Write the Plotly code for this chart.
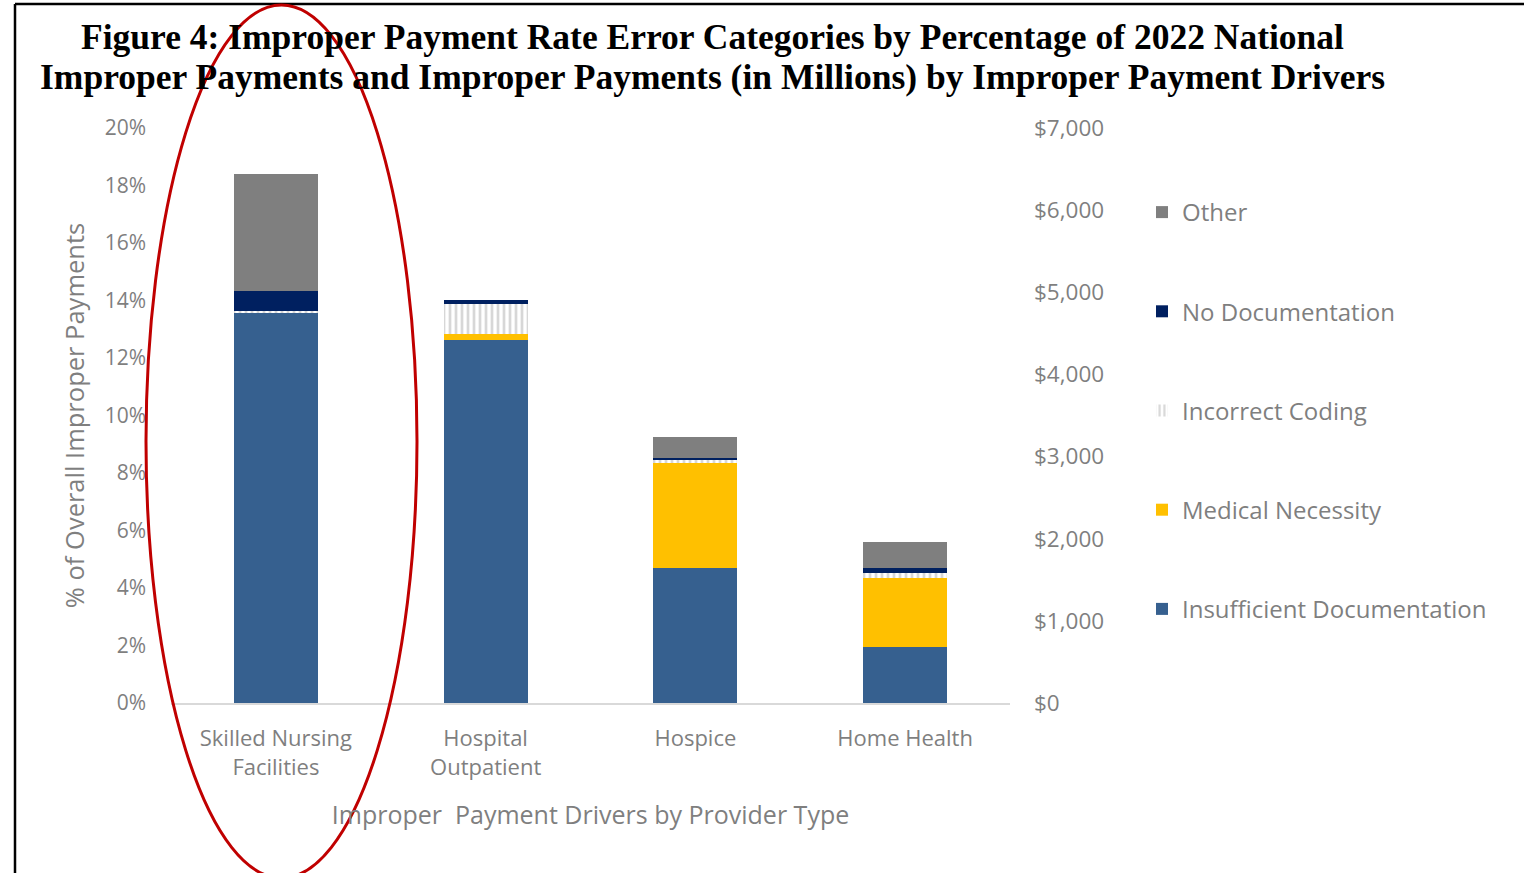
import plotly.graph_objects as go

categories = ["Skilled Nursing<br>Facilities", "Hospital<br>Outpatient", "Hospice", "Home Health"]
insufficient_doc = [0.1355, 0.1263, 0.0470, 0.0195]
medical_necessity = [0.0, 0.0020, 0.0365, 0.0240]
incorrect_coding = [0.0010, 0.0105, 0.0010, 0.0017]
no_documentation = [0.0068, 0.0014, 0.0007, 0.0017]
other = [0.0407, 0.0, 0.0073, 0.0090]

right_ticks = [0, 1000, 2000, 3000, 4000, 5000, 6000, 7000]
right_tick_text = ["$" + f"{v:,}" for v in right_ticks]

title_lines = [
    "Figure 4: Improper Payment Rate Error Categories by Percentage of 2022 National",
    "Improper Payments and Improper Payments (in Millions) by Improper Payment Drivers",
]

W, H = 1524, 873
L, R, T, B = 171, 1010, 128, 703

def px(x):
    return (x - L) / (R - L)

def py(y):
    return (B - y) / (B - T)

FONT = "Open Sans"
GRAY = "#7f7f7f"

fig = go.Figure()
series = [
    ("Insufficient Documentation", insufficient_doc, dict(color="#36608f"), 5),
    ("Medical Necessity", medical_necessity, dict(color="#ffc000"), 4),
    ("Incorrect Coding", incorrect_coding, dict(color="white", pattern=dict(shape="|", fgcolor="#b0b0b0", bgcolor="white", size=6, solidity=0.45)), 3),
    ("No Documentation", no_documentation, dict(color="#002060"), 2),
    ("Other", other, dict(color="#7f7f7f"), 1),
]
for i, (name, vals, marker, rank) in enumerate(series):
    fig.add_trace(go.Bar(
        x=categories, y=vals, name=name, marker=dict(line=dict(width=0), **marker),
        legendgroup=f"g{i}", legendrank=rank, width=0.4,
    ))

# dummy trace for right axis
fig.add_trace(go.Scatter(x=categories, y=[None]*4, yaxis="y2", showlegend=False, hoverinfo="skip"))

fig.update_layout(
    width=W, height=H,
    barmode="stack",
    plot_bgcolor="white", paper_bgcolor="white",
    margin=dict(l=L, r=W - R, t=T, b=H - B, autoexpand=False),
    font=dict(family=FONT, color=GRAY, size=21),
    xaxis=dict(
        showline=True, linecolor="#d9d9d9", linewidth=1.5, ticks="",
        tickfont=dict(size=22, color=GRAY), ticklabelstandoff=15,
        title=dict(text="Improper  Payment Drivers by Provider Type", font=dict(size=25, color=GRAY), standoff=27),
    ),
    yaxis=dict(
        range=[0, 0.2], dtick=0.02, tickformat=".0%", showgrid=False, zeroline=False,
        tickfont=dict(size=21, color=GRAY), ticklabelstandoff=24,
        title=dict(text="% of Overall Improper Payments", font=dict(size=25.5, color=GRAY), standoff=12),
    ),
    yaxis2=dict(
        overlaying="y", side="right", range=[0, 7000], tickvals=right_ticks, ticktext=right_tick_text,
        showgrid=False, zeroline=False,
        tickfont=dict(size=22.5, color=GRAY), ticklabelstandoff=23,
    ),
    legend=dict(
        x=px(1142), y=py(190), xanchor="left", yanchor="top",
        tracegroupgap=65,
        font=dict(size=24, color=GRAY), bgcolor="rgba(0,0,0,0)",
        itemwidth=30,
    ),
    showlegend=True,
)

for k, (line, yc) in enumerate(zip(title_lines, [37, 77])):
    fig.add_annotation(
        text=line, xref="paper", yref="paper", x=px(712), y=py(yc),
        xanchor="center", yanchor="middle", showarrow=False,
        font=dict(family="Liberation Serif", size=35.5, color="black", weight="bold"),
    )

# page border (left & top)
fig.add_shape(type="line", xref="paper", yref="paper", x0=px(15), x1=px(15), y0=py(873), y1=py(4),
              line=dict(color="black", width=2.5))
fig.add_shape(type="line", xref="paper", yref="paper", x0=px(15), x1=px(1524), y0=py(4), y1=py(4),
              line=dict(color="black", width=2.5))
# red highlight ellipse
fig.add_shape(type="circle", xref="paper", yref="paper", x0=px(146), x1=px(417), y0=py(878), y1=py(5),
              line=dict(color="#c00000", width=3), layer="above")

fig.write_html("out.html")
